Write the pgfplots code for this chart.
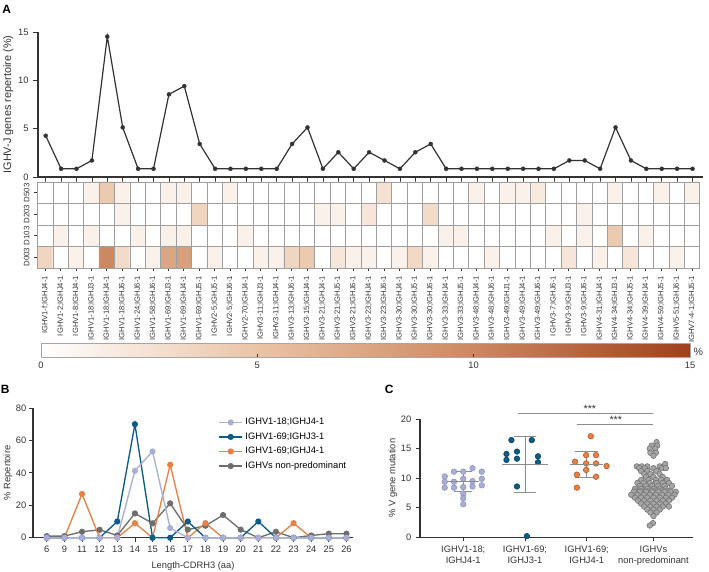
\documentclass[border=0pt]{standalone}
\usepackage{fontspec}
\setmainfont{Liberation Sans}
\usepackage{pgfplots}
\pgfplotsset{compat=1.18}
\definecolor{lav}{HTML}{A9AED6}
\definecolor{lavd}{HTML}{8A90C2}
\definecolor{tealb}{HTML}{0B5C86}
\definecolor{orng}{HTML}{EA8142}
\definecolor{orngd}{HTML}{A8552A}
\definecolor{gry}{HTML}{6E6E6E}
\definecolor{gryf}{HTML}{A6A6A6}
\definecolor{axc}{HTML}{333333}
\definecolor{barc}{HTML}{8C8C8C}
\pgfplotsset{
  prism/.style={scale only axis, axis lines=left,
    axis line style={axc, line width=0.8pt},
    x axis line style={-}, y axis line style={-},
    tick style={axc, line width=0.6pt}, tick align=outside, major tick length=3pt,
    ticklabel style={font=\fontsize{7}{8}\selectfont, text=axc},
    label style={font=\fontsize{7}{8}\selectfont, text=axc},
    /pgf/number format/assume math mode=true},
}
\begin{document}
\begin{tikzpicture}
\useasboundingbox (0,0) rectangle (531.75pt,-428.25pt);
% panel letters
\node[anchor=base west, inner sep=0pt, font=\bfseries\fontsize{9}{10}\selectfont] at (1.5pt,-9.75pt) {A};
\node[anchor=base west, inner sep=0pt, font=\bfseries\fontsize{9}{10}\selectfont] at (0.5pt,-294.75pt) {B};
\node[anchor=base west, inner sep=0pt, font=\bfseries\fontsize{9}{10}\selectfont] at (288.5pt,-294.75pt) {C};

% ---------- A: line plot ----------
\begin{axis}[prism, at={(28.5pt,-132.75pt)}, anchor=south west,
  width=498.75pt, height=108.75pt,
  xmin=0.5, xmax=43.68, ymin=0, ymax=15,
  xtick={1,...,43}, xticklabel={}, ytick={0,5,10,15},
  major tick length=3.5pt,
  ylabel={IGHV-J genes repertoire (\%)},
  ylabel style={at={(axis description cs:-0.0447,0.5)}, anchor=center, font=\fontsize{8.2}{9}\selectfont},
  clip=false]
\addplot[color=axc, line width=0.9pt, mark=*, mark size=1.5pt, mark options={line width=0.3pt, fill=axc}] coordinates {
(1,4.27) (2,0.85) (3,0.85) (4,1.71) (5,14.53) (6,5.13) (7,0.85) (8,0.85) (9,8.55) (10,9.40)
(11,3.42) (12,0.85) (13,0.85) (14,0.85) (15,0.85) (16,0.85) (17,3.42) (18,5.13) (19,0.85) (20,2.56)
(21,0.85) (22,2.56) (23,1.71) (24,0.85) (25,2.56) (26,3.42) (27,0.85) (28,0.85) (29,0.85) (30,0.85)
(31,0.85) (32,0.85) (33,0.85) (34,0.85) (35,1.71) (36,1.71) (37,0.85) (38,5.13) (39,1.71) (40,0.85)
(41,0.85) (42,0.85) (43,0.85)};
\end{axis}

% ---------- A: heatmap ----------
\begin{axis}[scale only axis, at={(28.125pt,-201pt)}, anchor=south west,
  width=496.65pt, height=64.5pt,
  xmin=0.5, xmax=43.5, ymin=0.5, ymax=4.5,
  colormap={brn}{rgb255(0cm)=(255,255,255) rgb255(5cm)=(234,196,166) rgb255(10cm)=(204,136,96) rgb255(15cm)=(160,64,28)},
  point meta min=0, point meta max=15,
  axis on top, clip=false,
  axis line style={gray!75, line width=0.6pt},
  xtick={1,...,43}, ytick={1,2,3,4},
  xtick pos=left, ytick pos=left, tick align=outside, major tick length=2.5pt,
  tick style={axc, line width=0.5pt},
  minor xtick={0.5,1.5,...,43.5}, minor ytick={0.5,1.5,...,4.5},
  minor tick length=0pt, xminorgrids=true, yminorgrids=true,
  minor grid style={draw=gray!75, line width=0.6pt},
  xticklabels={IGHV1-f;IGHJ4-1,IGHV1-2;IGHJ4-1,IGHV1-8;IGHJ4-1,IGHV1-18;IGHJ3-1,IGHV1-18;IGHJ4-1,IGHV1-18;IGHJ6-1,IGHV1-24;IGHJ6-1,IGHV1-58;IGHJ6-1,IGHV1-69;IGHJ3-1,IGHV1-69;IGHJ4-1,IGHV1-69;IGHJ5-1,IGHV2-5;IGHJ5-1,IGHV2-5;IGHJ6-1,IGHV2-70;IGHJ4-1,IGHV3-11;IGHJ3-1,IGHV3-11;IGHJ4-1,IGHV3-13;IGHJ6-1,IGHV3-15;IGHJ4-1,IGHV3-21;IGHJ4-1,IGHV3-21;IGHJ5-1,IGHV3-21;IGHJ6-1,IGHV3-23;IGHJ4-1,IGHV3-23;IGHJ6-1,IGHV3-30;IGHJ4-1,IGHV3-30;IGHJ5-1,IGHV3-30;IGHJ6-1,IGHV3-33;IGHJ4-1,IGHV3-33;IGHJ5-1,IGHV3-48;IGHJ4-1,IGHV3-48;IGHJ6-1,IGHV3-49;IGHJ1-1,IGHV3-49;IGHJ4-1,IGHV3-49;IGHJ6-1,IGHV3-7;IGHJ6-1,IGHV3-9;IGHJ3-1,IGHV3-9;IGHJ6-1,IGHV4-31;IGHJ4-1,IGHV4-34;IGHJ3-1,IGHV4-34;IGHJ5-1,IGHV4-39;IGHJ4-1,IGHV4-59;IGHJ5-1,IGHV5-51;IGHJ6-1,IGHV7-4-1;IGHJ5-1},
  yticklabels={D003,D103,D203,D503},
  xticklabel style={rotate=90, anchor=east, font=\fontsize{5.7}{6.5}\selectfont, text=axc},
  yticklabel style={rotate=90, anchor=south, font=\fontsize{5.9}{6.5}\selectfont, text=axc},
  colorbar horizontal,
  colorbar style={at={(0.00529,-0.872)}, anchor=north west,
    scale only axis, width=486.75pt, height=10.5pt,
    xtick={0,5,10,15}, xtick pos=left, tick align=inside, major tick length=2.5pt,
    axis line style={gray!70, line width=0.5pt},
    tick style={axc, line width=0.6pt},
    xticklabel style={font=\fontsize{7}{8}\selectfont, text=axc},
    /pgf/number format/assume math mode=true},
  ]
\addplot[matrix plot*, mesh/cols=43, point meta=explicit] coordinates {
(1,1)[3.5] (2,1)[0] (3,1)[1.2] (4,1)[0] (5,1)[10] (6,1)[3] (7,1)[0] (8,1)[1.2] (9,1)[7.5] (10,1)[8]
(11,1)[0] (12,1)[1.2] (13,1)[0] (14,1)[0] (15,1)[1.2] (16,1)[1.2] (17,1)[3.5] (18,1)[4.5] (19,1)[0] (20,1)[2]
(21,1)[1.2] (22,1)[1.2] (23,1)[0] (24,1)[1.2] (25,1)[3.2] (26,1)[1.2] (27,1)[0] (28,1)[0] (29,1)[0] (30,1)[1.2]
(31,1)[0] (32,1)[0] (33,1)[0] (34,1)[0] (35,1)[2.2] (36,1)[0] (37,1)[1.2] (38,1)[0] (39,1)[2.2] (40,1)[0]
(41,1)[0] (42,1)[1.2] (43,1)[0]

(1,2)[0] (2,2)[1.2] (3,2)[0] (4,2)[1.2] (5,2)[0] (6,2)[0] (7,2)[1.2] (8,2)[0] (9,2)[1.2] (10,2)[1.2]
(11,2)[0] (12,2)[0] (13,2)[0] (14,2)[1.2] (15,2)[0] (16,2)[0] (17,2)[0] (18,2)[0] (19,2)[0] (20,2)[0]
(21,2)[0] (22,2)[0] (23,2)[0] (24,2)[0] (25,2)[0] (26,2)[0] (27,2)[1.2] (28,2)[1.2] (29,2)[0] (30,2)[0]
(31,2)[0] (32,2)[0] (33,2)[0] (34,2)[1.2] (35,2)[0] (36,2)[1.2] (37,2)[0] (38,2)[4.5] (39,2)[0] (40,2)[1.2]
(41,2)[0] (42,2)[0] (43,2)[0]

(1,3)[0] (2,3)[0] (3,3)[0] (4,3)[0] (5,3)[0] (6,3)[1.2] (7,3)[0] (8,3)[0] (9,3)[0] (10,3)[0]
(11,3)[3.5] (12,3)[0] (13,3)[0] (14,3)[0] (15,3)[0] (16,3)[0] (17,3)[0] (18,3)[0] (19,3)[1.2] (20,3)[1.2]
(21,3)[0] (22,3)[2.2] (23,3)[0] (24,3)[0] (25,3)[0] (26,3)[3] (27,3)[0] (28,3)[0] (29,3)[0] (30,3)[0]
(31,3)[0] (32,3)[0] (33,3)[0] (34,3)[0] (35,3)[0] (36,3)[1.2] (37,3)[0] (38,3)[0] (39,3)[0] (40,3)[0]
(41,3)[0] (42,3)[0] (43,3)[0]

(1,4)[0] (2,4)[0] (3,4)[0] (4,4)[1.2] (5,4)[4.5] (6,4)[1.2] (7,4)[0] (8,4)[0] (9,4)[1.2] (10,4)[1.2]
(11,4)[0] (12,4)[0] (13,4)[1.2] (14,4)[0] (15,4)[0] (16,4)[0] (17,4)[0] (18,4)[0] (19,4)[0] (20,4)[0]
(21,4)[0] (22,4)[0] (23,4)[2.5] (24,4)[0] (25,4)[0] (26,4)[0] (27,4)[0] (28,4)[0] (29,4)[1.2] (30,4)[0]
(31,4)[1.2] (32,4)[1.2] (33,4)[1.8] (34,4)[0] (35,4)[0] (36,4)[0] (37,4)[0] (38,4)[1.2] (39,4)[0] (40,4)[0]
(41,4)[1.2] (42,4)[0] (43,4)[1.2]
};
\node[font=\fontsize{8}{9}\selectfont, text=axc] at (rel axis cs:0.998,-0.977) {\%};
\end{axis}

% ---------- B ----------
\begin{axis}[prism, at={(24.75pt,-403.3pt)}, anchor=south west,
  width=240pt, height=97.3pt,
  xmin=-0.78, xmax=17.37, ymin=0, ymax=80,
  ytick={0,20,40,60,80},
  yticklabel style={xshift=1.5pt},
  xtick={0,...,17}, xticklabels={6,9,11,12,13,14,15,16,17,18,19,20,21,22,23,24,25,26},
  xlabel={Length-CDRH3 (aa)}, ylabel={\% Repertoire},
  ylabel style={at={(axis description cs:-0.078,0.5)}, anchor=center},
  clip=false,
  reverse legend,
  legend style={at={(1.0,0.965)}, anchor=north east, draw=none, fill=none,
    font=\fontsize{7}{8}\selectfont, row sep=0.5pt},
  legend cell align=left,
  every axis plot/.append style={line width=1pt, mark=*, mark size=1.8pt}]
\addplot[color=gry] coordinates {(0,1) (1,1) (2,3.7) (3,4.9) (4,1.4) (5,15) (6,8.9) (7,21.2) (8,5) (9,7.4) (10,14) (11,5) (12,0) (13,3.7) (14,0) (15,1.4) (16,2.5) (17,2.5)};
\addlegendentry{IGHVs non-predominant}
\addplot[color=orng] coordinates {(0,0) (1,0) (2,27) (3,0) (4,0) (5,9) (6,0) (7,45) (8,0) (9,9) (10,0) (11,0) (12,0) (13,0) (14,9) (15,0) (16,0) (17,0)};
\addlegendentry{IGHV1-69;IGHJ4-1}
\addplot[color=tealb] coordinates {(0,0) (1,0) (2,0) (3,0) (4,10) (5,70) (6,0) (7,0) (8,10) (9,0) (10,0) (11,0) (12,10) (13,0) (14,0) (15,0) (16,0) (17,0)};
\addlegendentry{IGHV1-69;IGHJ3-1}
\addplot[color=lav] coordinates {(0,0) (1,0) (2,0) (3,0) (4,0) (5,41.3) (6,53.2) (7,6) (8,0) (9,0) (10,0) (11,0) (12,0) (13,0) (14,0) (15,0) (16,0) (17,0)};
\addlegendentry{IGHV1-18;IGHJ4-1}
\end{axis}

% ---------- C ----------
\begin{axis}[prism, at={(315pt,-403pt)}, anchor=south west,
  width=204.75pt, height=88.7pt,
  xmin=-0.70, xmax=3.72, ymin=0, ymax=20,
  ytick={0,5,10,15,20},
  xtick={0,1,2,3.08},
  xticklabels={{IGHV1-18;\\IGHJ4-1},{IGHV1-69;\\IGHJ3-1},{IGHV1-69;\\IGHJ4-1},{IGHVs\\non-predominant}},
  xticklabel style={align=center},
  ylabel={\% V gene mutation},
  ylabel style={at={(axis description cs:-0.099,0.5)}, anchor=center},
  clip=false]
\addplot[only marks, mark=*, mark size=2.1pt, mark options={fill=lav, draw=lavd, line width=0.4pt}] coordinates {
(-0.3,10.3) (-0.3,9.4) (-0.3,8.4)
(-0.15,11.1) (-0.15,9.4) (-0.15,8.4)
(0,11.1) (0,9.9) (0,8.5) (0,7.4) (0,6.6) (0,5.6)
(0.15,11.7) (0.15,9.5) (0.15,8.6)
(0.3,11.1) (0.3,9.9) (0.3,8.8)};
\addplot[only marks, mark=*, mark size=2.1pt, mark options={fill=tealb, draw=tealb!70!black, line width=0.4pt}] coordinates {
(0.78,16.45) (1.11,16.45) (0.70,14.1) (0.87,14.5) (1.21,13.7) (0.70,13.1) (0.87,13.3) (1.21,12.7) (0.87,8.6) (1.03,0.2)};
\addplot[only marks, mark=*, mark size=2.1pt, mark options={fill=orng, draw=orngd, line width=0.4pt}] coordinates {
(2.065,17.1) (1.81,12.8) (1.99,13.9) (2.15,13.9) (1.99,12.5) (2.15,12.5) (2.32,12.05) (1.99,11.4) (1.84,10.6) (2.15,10.25) (1.84,8.4)};
\addplot[only marks, mark=*, mark size=2.1pt, mark options={fill=gryf, draw=gry, line width=0.4pt}] coordinates {
(3.13,16.1)
(3.05,15.5) (3.14,15.5)
(3.02,15.0) (3.11,15.0)
(3.03,14.3) (3.12,14.3)
(3.08,13.8)
(3.27,12.4)
(2.81,12.0) (2.89,12.0) (2.98,12.0) (3.18,12.0)
(2.85,11.7) (2.94,11.7) (3.08,11.7) (3.22,11.7) (3.28,11.7)
(2.88,11.2) (2.98,11.2) (3.13,11.2)
(2.93,10.7) (3.03,10.7) (3.18,10.7)
(2.96,10.2) (3.08,10.2) (3.23,10.2)
(2.88,9.7) (3.00,9.7) (3.12,9.7) (3.20,9.7) (3.30,9.7)
(2.82,9.2) (2.92,9.2) (3.02,9.2) (3.13,9.2) (3.23,9.2) (3.33,9.2)
(2.86,8.7) (2.96,8.7) (3.06,8.7) (3.16,8.7) (3.26,8.7) (3.38,8.7)
(2.78,8.2) (2.88,8.2) (2.98,8.2) (3.08,8.2) (3.18,8.2) (3.28,8.2)
(2.76,7.7) (2.86,7.7) (2.96,7.7) (3.06,7.7) (3.16,7.7) (3.26,7.7) (3.36,7.7) (3.44,7.7)
(2.72,7.2) (2.82,7.2) (2.92,7.2) (3.02,7.2) (3.12,7.2) (3.22,7.2) (3.32,7.2) (3.42,7.2)
(2.78,6.7) (2.88,6.7) (2.98,6.7) (3.08,6.7) (3.18,6.7) (3.28,6.7) (3.38,6.7)
(2.83,6.2) (2.93,6.2) (3.03,6.2) (3.13,6.2) (3.23,6.2) (3.33,6.2)
(2.88,5.7) (2.98,5.7) (3.08,5.7) (3.18,5.7) (3.28,5.7)
(2.93,5.2) (3.03,5.2) (3.13,5.2) (3.23,5.2) (3.33,5.2)
(2.98,4.7) (3.08,4.7) (3.18,4.7)
(3.03,4.2) (3.13,4.2)
(3.08,3.6)
(3.07,2.4)
(3.02,2.0)};
% mean +- SD
\addplot[barc, line width=0.8pt, mark=-, mark size=12pt, only marks, error bars/.cd, y dir=both, y explicit, error bar style={barc, line width=0.7pt}, error mark options={rotate=90, barc, mark size=6.75pt, line width=0.7pt}] coordinates {(0,9.45) +- (0,1.65)};
\addplot[barc, line width=0.8pt, mark=-, mark size=17pt, only marks, error bars/.cd, y dir=both, y explicit, error bar style={barc, line width=0.7pt}, error mark options={rotate=90, barc, mark size=8.5pt, line width=0.7pt}] coordinates {(1,12.3) +- (0,4.7)};
\addplot[barc, line width=0.8pt, mark=-, mark size=12.4pt, only marks, error bars/.cd, y dir=both, y explicit, error bar style={barc, line width=0.7pt}, error mark options={rotate=90, barc, mark size=8.6pt, line width=0.7pt}] coordinates {(2,12.35) +- (0,2.25)};
\addplot[barc, line width=0.8pt, mark=-, mark size=14pt, only marks, error bars/.cd, y dir=both, y explicit, error bar style={barc, line width=0.7pt}, error mark options={rotate=90, barc, mark size=6.5pt, line width=0.7pt}] coordinates {(3.08,8.3) +- (0,3.2)};
% significance
\addplot[barc, line width=0.7pt] coordinates {(0.89,20.96) (3.07,20.96)};
\addplot[barc, line width=0.7pt] coordinates {(1.84,19.1) (3.07,19.1)};
\node[anchor=south, inner sep=1pt, font=\fontsize{8}{9}\selectfont, text=axc] at (axis cs:2.05,20.9) {***};
\node[anchor=south, inner sep=1pt, font=\fontsize{8}{9}\selectfont, text=axc] at (axis cs:2.47,19.05) {***};
\end{axis}
\end{tikzpicture}
\end{document}
